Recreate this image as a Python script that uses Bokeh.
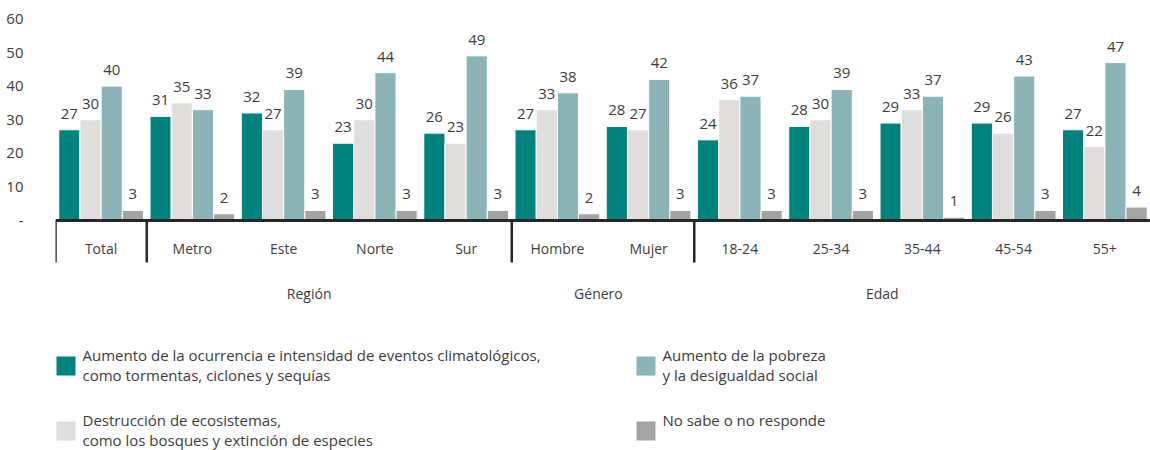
from bokeh.plotting import figure
from bokeh.models import (ColumnDataSource, Range1d, LinearAxis, FixedTicker,
                          Legend, LegendItem)
from bokeh.transform import dodge
from bokeh.core.properties import value
from bokeh.embed import file_html
from bokeh.resources import INLINE

# ---------------- data ----------------
categories = ["Total", "Metro", "Este", "Norte", "Sur", "Hombre", "Mujer",
              "18-24", "25-34", "35-44", "45-54", "55+"]
groups = ["Región", "Género", "Edad"]
group_members = [["Metro", "Este", "Norte", "Sur"],
                 ["Hombre", "Mujer"],
                 ["18-24", "25-34", "35-44", "45-54", "55+"]]
series_names = [
    "Aumento de la ocurrencia e intensidad de eventos climatológicos,\ncomo tormentas, ciclones y sequías",
    "Destrucción de ecosistemas,\ncomo los bosques y extinción de especies",
    "Aumento de la pobreza\ny la desigualdad social",
    "No sabe o no responde",
]
eventos = [27, 31, 32, 23, 26, 27, 28, 24, 28, 29, 29, 27]
ecosistemas = [30, 35, 27, 30, 23, 33, 27, 36, 30, 33, 26, 22]
pobreza = [40, 33, 39, 44, 49, 38, 42, 37, 39, 37, 43, 47]
no_sabe = [3, 2, 3, 3, 3, 2, 3, 3, 3, 1, 3, 4]
y_ticks = [0, 10, 20, 30, 40, 50, 60]
y_tick_labels = ["-", "10", "20", "30", "40", "50", "60"]

# ---------------- styles / layout ----------------
colors = ["#00827e", "#dfdedd", "#8ab4b5", "#a3a3a3"]
offsets = [-0.348, -0.116, 0.116, 0.348]
bar_w = 0.232
FONT = "Open Sans"
TXT = "#3c3c3c"
group_label_x = [2.28, 5.45, 8.56]   # observed label centres (category units)
sep_bottom = -12.5

series_cols = ["eventos", "ecosistemas", "pobreza", "no_sabe"]
data = dict(x=list(range(len(categories))), cat=categories,
            eventos=eventos, ecosistemas=ecosistemas, pobreza=pobreza, no_sabe=no_sabe)
for c in series_cols:
    data[c + "_lbl"] = [str(v) for v in data[c]]
source = ColumnDataSource(data)

p = figure(width=1150, height=450,
           x_range=Range1d(-0.5, len(categories) - 0.5),
           y_range=Range1d(-68.45, 65.48),
           x_axis_type=None, y_axis_type=None,
           output_backend="svg", toolbar_location=None,
           min_border_left=55, min_border_right=0,
           min_border_top=0, min_border_bottom=0)
p.outline_line_color = None
p.background_fill_color = "white"

# y axis
yaxis = LinearAxis(ticker=FixedTicker(ticks=y_ticks),
                   major_label_overrides={t: l for t, l in zip(y_ticks, y_tick_labels)},
                   axis_line_color=None, major_tick_line_color=None,
                   minor_tick_line_color=None, major_label_standoff=26,
                   major_label_text_font=FONT, major_label_text_font_size="15px",
                   major_label_text_color=TXT)
p.add_layout(yaxis, "left")

# category axis at y = 0
cat_ticks = list(range(len(categories)))
xaxis = LinearAxis(ticker=FixedTicker(ticks=cat_ticks),
                   major_label_overrides={t: c for t, c in zip(cat_ticks, categories)},
                   fixed_location=0,
                   axis_line_color="#262626", axis_line_width=3,
                   major_tick_line_color=None, minor_tick_line_color=None,
                   major_label_standoff=12,
                   major_label_text_font=FONT, major_label_text_font_size="14px",
                   major_label_text_color=TXT)
xaxis.level = "overlay"
p.add_layout(xaxis, "below")

# group axis
gaxis = LinearAxis(ticker=FixedTicker(ticks=group_label_x),
                   major_label_overrides={t: g for t, g in zip(group_label_x, groups)},
                   fixed_location=sep_bottom,
                   axis_line_color=None,
                   major_tick_line_color=None, minor_tick_line_color=None,
                   major_label_standoff=15,
                   major_label_text_font=FONT, major_label_text_font_size="14px",
                   major_label_text_color=TXT)
p.add_layout(gaxis, "below")

# separators between groups
sep_x = [-0.5] + [categories.index(m[0]) - 0.5 for m in group_members]
p.segment(x0=sep_x, x1=sep_x, y0=[0] * len(sep_x), y1=[sep_bottom] * len(sep_x),
          line_color="#262626", line_width=2.5)

# bars + labels
renderers = []
for col, color, off in zip(series_cols, colors, offsets):
    xx = dodge("x", off, range=p.x_range)
    r = p.vbar(x=xx, top=col, width=bar_w, bottom=0, source=source,
               fill_color=color, line_color="white", line_width=1)
    renderers.append(r)
    p.text(x=xx, y=col, text=col + "_lbl", source=source,
           text_align="center", text_baseline="bottom", y_offset=-11,
           text_font=value(FONT), text_font_size="15px", text_color=TXT)

# legend labels; the single-line entry gets an invisible second line so it
# aligns with the first line of its neighbour, as in the reference
legend_labels = list(series_names)
legend_labels[3] = series_names[3] + "\n\u200b"

legend = Legend(items=[LegendItem(label=n, renderers=[r]) for n, r in zip(legend_labels, renderers)],
                location=(-2.5, 0), orientation="vertical", ncols=2,
                label_width=525, spacing=25, glyph_width=25, glyph_height=25,
                padding=0, margin=0, border_line_color=None,
                background_fill_alpha=0, label_standoff=5,
                label_text_font=FONT, label_text_font_size="15px",
                label_text_color=TXT, label_text_line_height=1.33)
p.add_layout(legend, "center")

open("out.html", "w").write(file_html(p, INLINE))
